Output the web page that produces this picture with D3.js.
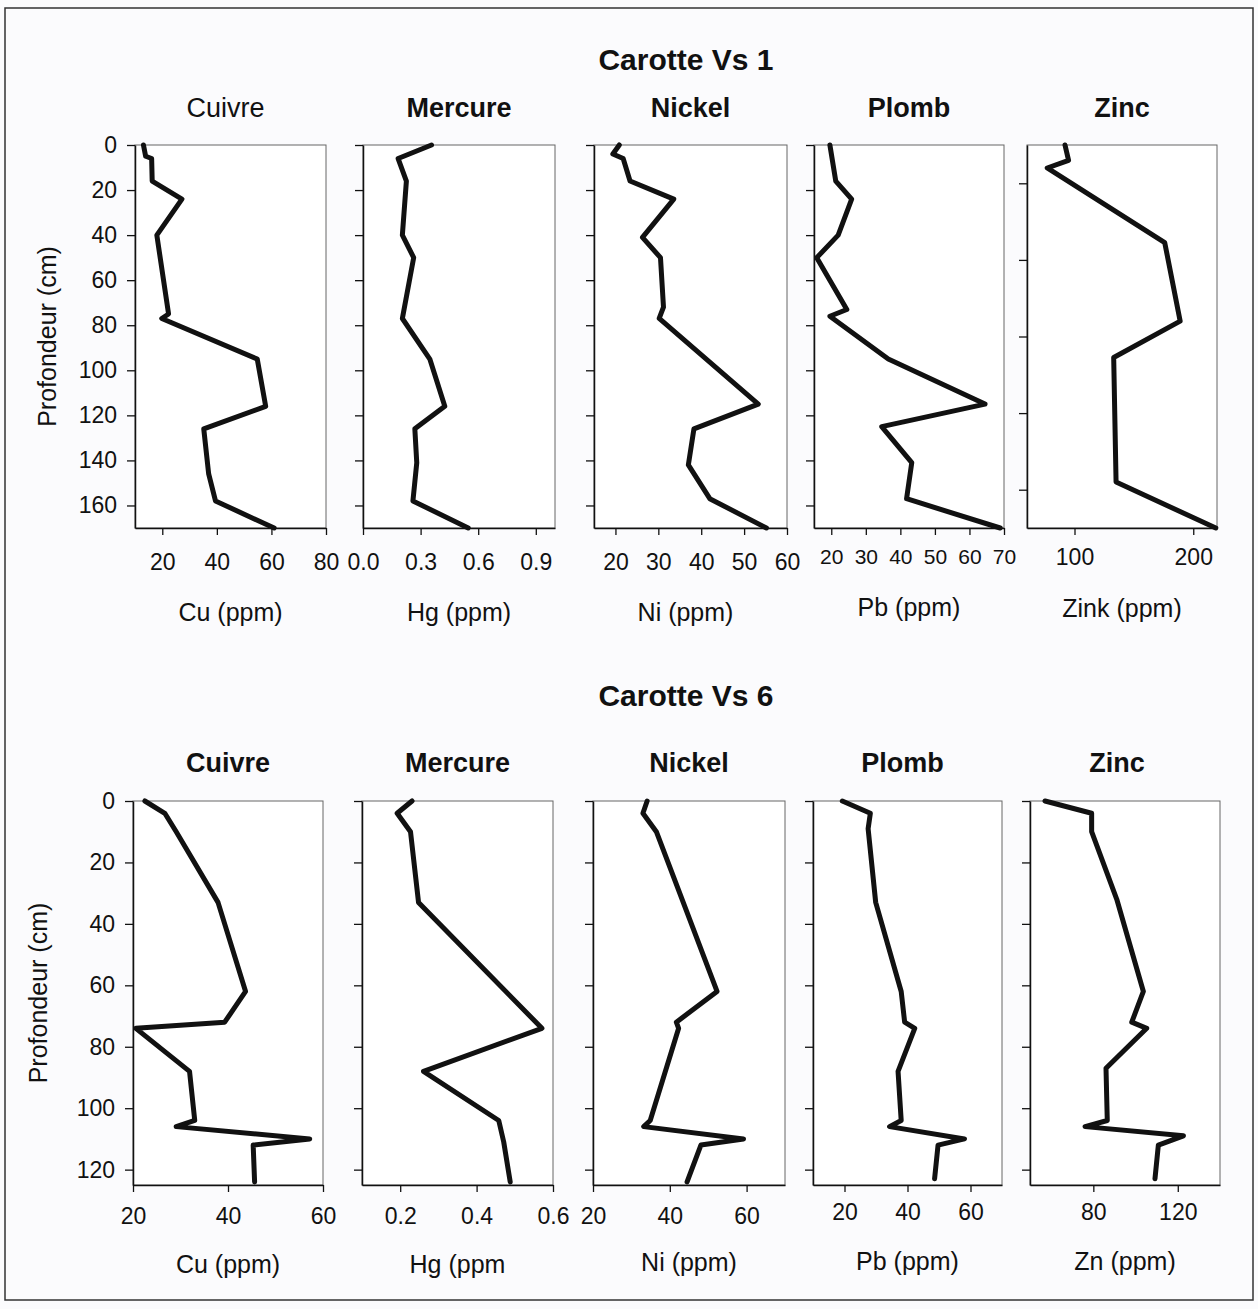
<!DOCTYPE html>
<html>
<head>
<meta charset="utf-8">
<script src="https://cdn.jsdelivr.net/npm/d3@7"></script>
<style>
  body { margin: 0; background: #fff; }
  text { font-family: "Liberation Sans", Arial, sans-serif; fill: #111; }
</style>
</head>
<body>
<svg id="chart" width="1258" height="1309"></svg>
<script>
// --- Carotte Vs 1 (depth in cm, concentrations in ppm) ---
const depthCu1 = [0, 5, 6, 16, 24, 40, 75, 77, 95, 116, 126, 146, 158, 170];
const cu1 = [13.1, 13.9, 16.1, 16.3, 27.2, 18.0, 22.3, 19.8, 54.8, 57.9, 35.2, 37, 39.5, 61];
const depthHg1 = [0, 6, 16, 40, 50, 77, 95, 116, 126, 141, 158, 170];
const hg1 = [0.357, 0.183, 0.226, 0.205, 0.264, 0.205, 0.348, 0.426, 0.27, 0.28, 0.26, 0.548];
const depthNi1 = [0, 4, 6, 16, 24, 41, 50, 72, 77, 115, 126, 142, 157, 170];
const ni1 = [20.9, 19.4, 21.8, 23.4, 33.6, 26.3, 30.5, 31.2, 30.2, 53.3, 38.3, 37, 42, 55.2];
const depthPb1 = [0, 16, 24, 40, 50, 73, 76, 95, 115, 125, 141, 157, 170];
const pb1 = [19.6, 21.3, 25.9, 22.0, 15.8, 24.5, 19.6, 36.5, 64.5, 34.6, 43.3, 41.8, 68.9];
const depthZn1 = [0, 8, 12, 51, 92, 111, 176, 200];
const zn1 = [92, 95, 77, 176, 189, 133, 135, 219];

// --- Carotte Vs 6 ---
const depthCu6 = [0, 4, 10, 33, 62, 72, 74, 88, 104, 106, 110, 112, 124];
const cu6 = [22.5, 26.7, 29.1, 37.9, 43.7, 39.3, 20.6, 31.9, 33, 29.1, 57.2, 45.3, 45.6];
const depthHg6 = [0, 4, 10, 33, 74, 88, 104, 111, 124];
const hg6 = [0.231, 0.192, 0.227, 0.248, 0.571, 0.261, 0.458, 0.471, 0.488];
const depthNi6 = [0, 4, 10, 62, 72, 74, 104, 106, 110, 112, 124];
const ni6 = [34.1, 33, 36.5, 52.3, 41.7, 42.3, 34.9, 33.2, 59.2, 48.1, 44.5];
const depthPb6 = [0, 4, 9, 33, 62, 72, 74, 88, 104, 106, 110, 112, 123];
const pb6 = [19.3, 28.2, 27.5, 29.9, 38, 39.1, 42.3, 37, 38, 34.3, 58.1, 49.7, 48.6];
const depthZn6 = [0, 4, 10, 32, 62, 72, 74, 87, 104, 106, 109, 112, 123];
const zn6 = [57.1, 79.2, 79.2, 91.1, 103.7, 98.2, 105.3, 86, 86.6, 76.1, 122.7, 110.8, 109.2];

// tick labels
const depthTicks1 = [0, 20, 40, 60, 80, 100, 120, 140, 160];
const depthTicksZn1 = [20, 60, 100, 140, 180];
const depthTicks6 = [0, 20, 40, 60, 80, 100, 120];

const svg = d3.select("#chart");
svg.append("rect").attr("width", 1258).attr("height", 1309).attr("fill", "#fbfbfd");
svg.append("rect")
    .attr("x", 5).attr("y", 8).attr("width", 1248).attr("height", 1292)
    .attr("fill", "none").attr("stroke", "#333").attr("stroke-width", 1.5);

const rows = [
  {
    title: "Carotte Vs 1", titleY: 70, top: 145, bottom: 528, panelTitleY: 117,
    axisTitleY: 621, yTitleX: 47,
    panels: [
      { name: "Cuivre", bold: false, unit: "Cu (ppm)", d: depthCu1, v: cu1, xd: [10, 80], xt: [20, 40, 60, 80], left: 135, w: 191, yd: [0, 170], yt: depthTicks1, pad: 19, tx: -5 },
      { name: "Mercure", bold: true, unit: "Hg (ppm)", d: depthHg1, v: hg1, xd: [0, 1.0], xt: [0, 0.3, 0.6, 0.9], fmt: ".1f", left: 363, w: 192, yd: [0, 170], yt: depthTicks1, pad: 19 },
      { name: "Nickel", bold: true, unit: "Ni (ppm)", d: depthNi1, v: ni1, xd: [15, 60], xt: [20, 30, 40, 50, 60], left: 594, w: 193, yd: [0, 170], yt: depthTicks1, pad: 19, ux: -5 },
      { name: "Plomb", bold: true, unit: "Pb (ppm)", d: depthPb1, v: pb1, xd: [15, 70], xt: [20, 30, 40, 50, 60, 70], left: 814, w: 190, yd: [0, 170], yt: depthTicks1, pad: 14, small: true, ty: -5 },
      { name: "Zinc", bold: true, unit: "Zink (ppm)", d: depthZn1, v: zn1, xd: [60, 220], xt: [100, 200], left: 1027, w: 190, yd: [0, 200], yt: depthTicksZn1, pad: 14, ty: -4 }
    ]
  },
  {
    title: "Carotte Vs 6", titleY: 706, top: 801, bottom: 1185, panelTitleY: 772,
    axisTitleY: 1273, yTitleX: 38,
    panels: [
      { name: "Cuivre", bold: true, unit: "Cu (ppm)", d: depthCu6, v: cu6, xd: [20, 60], xt: [20, 40, 60], left: 133, w: 190, yd: [0, 125], yt: depthTicks6, pad: 16 },
      { name: "Mercure", bold: true, unit: "Hg (ppm", d: depthHg6, v: hg6, xd: [0.1, 0.6], xt: [0.2, 0.4, 0.6], fmt: ".1f", left: 362, w: 191, yd: [0, 125], yt: depthTicks6, pad: 16 },
      { name: "Nickel", bold: true, unit: "Ni (ppm)", d: depthNi6, v: ni6, xd: [20, 70], xt: [20, 40, 60], left: 593, w: 192, yd: [0, 125], yt: depthTicks6, pad: 16, ty: -2 },
      { name: "Plomb", bold: true, unit: "Pb (ppm)", d: depthPb6, v: pb6, xd: [10, 70], xt: [20, 40, 60], left: 813, w: 189, yd: [0, 125], yt: depthTicks6, pad: 12, ty: -3, tx: -5 },
      { name: "Zinc", bold: true, unit: "Zn (ppm)", d: depthZn6, v: zn6, xd: [50, 140], xt: [80, 120], left: 1030, w: 190, yd: [0, 125], yt: depthTicks6, pad: 12, ty: -3, tx: -8 }
    ]
  }
];

rows.forEach(function(row) {
  svg.append("text")
      .attr("x", 686).attr("y", row.titleY)
      .attr("text-anchor", "middle")
      .style("font-size", "30px").style("font-weight", "bold")
      .text(row.title);

  row.panels.forEach(function(p, i) {
    const x = d3.scaleLinear().domain(p.xd).range([p.left, p.left + p.w]);
    const y = d3.scaleLinear().domain(p.yd).range([row.top, row.bottom]);
    const g = svg.append("g");
    const cx = p.left + p.w / 2;

    // plot box
    g.append("rect")
        .attr("x", p.left).attr("y", row.top)
        .attr("width", p.w).attr("height", row.bottom - row.top)
        .attr("fill", "#fff").attr("stroke", "#666").attr("stroke-width", 1);

    // x axis
    const xAxis = d3.axisBottom(x).tickValues(p.xt).tickSize(7).tickSizeOuter(0).tickPadding(p.pad);
    if (p.fmt) xAxis.tickFormat(d3.format(p.fmt));
    const gx = g.append("g").attr("transform", `translate(0,${row.bottom})`).call(xAxis);
    gx.selectAll("text").style("font-size", p.small ? "21px" : "23px").attr("fill", "#111");

    // y axis (labels only on first panel)
    const yAxis = d3.axisLeft(y).tickValues(p.yt).tickSize(8).tickSizeOuter(0).tickPadding(10);
    if (i > 0) yAxis.tickFormat("");
    const gy = g.append("g").attr("transform", `translate(${p.left},0)`).call(yAxis);
    gy.selectAll("text").style("font-size", "23px").attr("fill", "#111");

    [gx, gy].forEach(function(a) {
      a.select(".domain").attr("stroke", "#111").attr("stroke-width", 1.5);
      a.selectAll(".tick line").attr("stroke", "#111").attr("stroke-width", 1.3);
    });

    // profile line
    const pts = p.d.map((d, k) => [p.v[k], d]);
    g.append("path")
        .datum(pts)
        .attr("fill", "none")
        .attr("stroke", "#111")
        .attr("stroke-width", 5)
        .attr("stroke-linejoin", "round")
        .attr("stroke-linecap", "round")
        .attr("d", d3.line().x(d => x(d[0])).y(d => y(d[1])));

    // panel title
    g.append("text")
        .attr("x", cx + (p.tx || 0)).attr("y", row.panelTitleY)
        .attr("text-anchor", "middle")
        .style("font-size", "27px")
        .style("font-weight", p.bold ? "bold" : "normal")
        .text(p.name);

    // unit label
    g.append("text")
        .attr("x", cx + (p.ux || 0)).attr("y", row.axisTitleY + (p.ty || 0))
        .attr("text-anchor", "middle")
        .style("font-size", "25px")
        .text(p.unit);
  });

  // depth axis title
  const yMid = (row.top + row.bottom) / 2;
  svg.append("text")
      .attr("transform", `translate(${row.yTitleX + 9},${yMid}) rotate(-90)`)
      .attr("text-anchor", "middle")
      .style("font-size", "25px")
      .text("Profondeur (cm)");
});
</script>
</body>
</html>
